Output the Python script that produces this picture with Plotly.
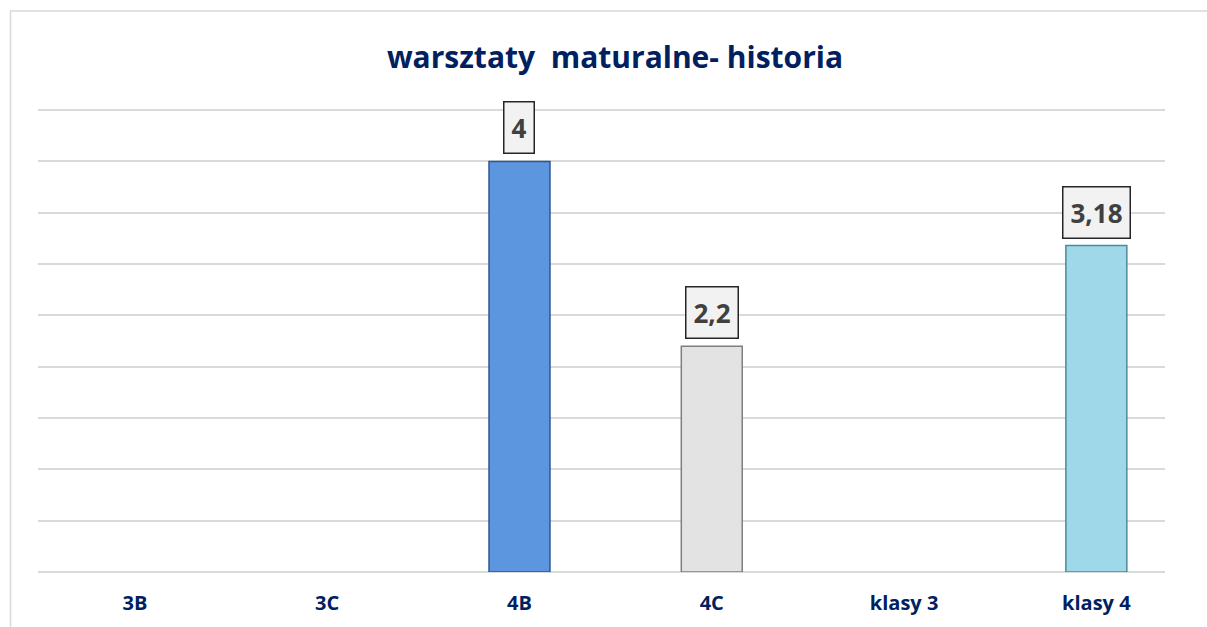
import plotly.graph_objects as go

categories = ["3B", "3C", "4B", "4C", "klasy 3", "klasy 4"]
values = [None, None, 4, 2.2, None, 3.18]
labels = ["", "", "4", "2,2", "", "3,18"]
bar_colors = ["#5B96DF", "#5B96DF", "#5B96DF", "#E3E3E3", "#9FD8E8", "#9FD8E8"]
edge_colors = ["#2F5597", "#2F5597", "#2F5597", "#7F7F7F", "#4A8A9C", "#4A8A9C"]

W, H = 1207, 627
Y_TOP = 4.52
L, R, B = 38, 42, 55
unit = (572 - 161) / 4.0
T = int(round(572 - Y_TOP * unit))
pw, ph = W - L - R, H - T - B

fig = go.Figure()
fig.add_trace(go.Bar(
    x=categories, y=values, width=0.317,
    marker=dict(color=bar_colors, line=dict(color=edge_colors, width=1.5)),
    hoverinfo="x+y",
))

annotations = []
for c, v, t in zip(categories, values, labels):
    if v is None:
        continue
    annotations.append(dict(
        x=c, y=v, xref="x", yref="y", text=f"<b>{t}</b>", showarrow=False,
        yanchor="bottom", yshift=7,
        font=dict(family="Open Sans", size=26, color="#404040"),
        bgcolor="#F2F2F2", bordercolor="#262626", borderwidth=1.5, borderpad=7,
    ))

def px_x(p):
    return (p - L) / pw

def px_y(p):
    return (H - B - p) / ph

fig.update_layout(
    width=W, height=H,
    margin=dict(l=L, r=R, t=T, b=B, autoexpand=False),
    paper_bgcolor="white", plot_bgcolor="white",
    showlegend=False,
    title=dict(
        text="<b>warsztaty  maturalne- historia</b>",
        x=615 / W, xanchor="center", y=1 - 57 / H, yanchor="middle",
        font=dict(family="Open Sans", size=30, color="#002060"),
    ),
    xaxis=dict(
        range=[-0.504, 5.357], automargin=False,
        showline=False, showgrid=False, zeroline=False,
        tickfont=dict(family="Open Sans", size=20, color="#002060"),
        tickprefix="<b>", ticksuffix="</b>",
        ticks="outside", ticklen=0, ticklabelstandoff=13,
    ),
    yaxis=dict(
        range=[0, Y_TOP], dtick=0.5, showticklabels=False, automargin=False,
        showgrid=True, gridcolor="#D9D9D9", gridwidth=1.5,
        zeroline=True, zerolinecolor="#D9D9D9", zerolinewidth=1.5,
        showline=False,
    ),
    annotations=annotations,
    shapes=[dict(
        type="rect", xref="paper", yref="paper",
        x0=px_x(10.5), x1=px_x(1300), y0=px_y(11), y1=px_y(700),
        line=dict(color="#D9D9D9", width=1.5), fillcolor="rgba(0,0,0,0)",
        layer="below",
    )],
)

fig.write_html("out.html", config={"displayModeBar": False},
               post_script="document.body.style.margin='0';")
